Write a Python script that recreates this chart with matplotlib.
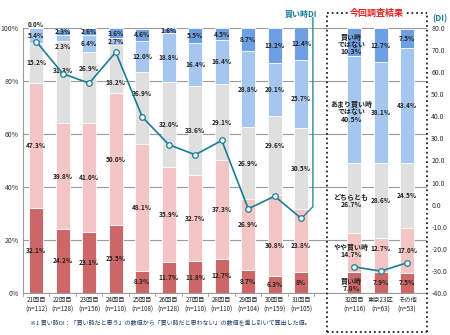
import matplotlib
matplotlib.use('Agg')
import matplotlib.pyplot as plt
from matplotlib.lines import Line2D

plt.rcParams['font.family'] = ['Noto Sans CJK JP', 'DejaVu Sans']

categories = ['21回目', '22回目', '23回目', '24回目', '25回目', '26回目', '27回目',
              '28回目', '29回目', '30回目', '31回目', '32回目', '東京23区', 'その他']
n_counts = [112, 128, 156, 110, 108, 128, 110, 110, 104, 159, 105, 116, 63, 53]

# 回答割合 (%)  下から順に積み上げ
kaidoki = [32.1, 24.2, 23.1, 25.5, 8.3, 11.7, 11.8, 12.7, 8.7, 6.3, 8.0, 7.8, 7.9, 7.5]
yaya = [47.3, 39.8, 41.0, 50.0, 48.1, 35.9, 32.7, 37.3, 26.9, 30.8, 23.8, 14.7, 12.7, 17.0]
dochira = [15.2, 31.3, 26.9, 18.2, 26.9, 32.0, 33.6, 29.1, 26.9, 29.6, 30.5, 26.7, 28.6, 24.5]
amari = [5.4, 2.3, 6.4, 2.7, 12.0, 18.8, 16.4, 16.4, 28.8, 20.1, 25.7, 40.5, 38.1, 43.4]
dewanai = [0.0, 2.3, 2.6, 3.6, 4.6, 1.6, 5.5, 4.5, 8.7, 13.2, 12.4, 10.3, 12.7, 7.5]

# 買い時DI
di = [74.0, 59.4, 55.1, 69.2, 39.8, 27.2, 22.6, 29.1, -1.9, 3.8, -6.3, -28.3, -30.2, -26.4]

series = [kaidoki, yaya, dochira, amari, dewanai]
colors = ['#cd6666', '#f3c5c5', '#dfdfdf', '#a5c6ee', '#6d9fe2']
teal = '#177e93'

xpos = list(range(11)) + [12, 13, 14]

fig = plt.figure(figsize=(4.5, 3.35), dpi=100)
ax = fig.add_axes([0.0511, 0.1263, 0.898, 0.7892])

bottoms = [0.0] * len(categories)
for vals, c in zip(series, colors):
    ax.bar(xpos, vals, bottom=bottoms, width=0.54, color=c,
           edgecolor='white', linewidth=0.6, zorder=2)
    bottoms = [b + v for b, v in zip(bottoms, vals)]

# ラベル位置の微調整 (系列番号, 棒番号): 上下のずれ(%)
shift = {(3, 1): -3.4, (2, 1): 4.4, (2, 2): 7.2, (2, 3): -5.0, (2, 4): 5.5,
         (2, 9): 3.8, (1, 8): 3.6, (1, 9): -3.9, (1, 10): -2.0, (3, 10): -1.6,
         (1, 12): 2.3, (1, 11): 1.5}
special = {(0, 10): '8%'}
named = {(4, 11): '買い時\nではない\n', (3, 11): 'あまり買い時\nではない\n',
         (2, 11): 'どちらとも\n', (1, 11): 'やや買い時\n', (0, 11): '買い時\n'}

base = [0.0] * len(categories)
for si, vals in enumerate(series):
    for i, v in enumerate(vals):
        y = base[i] + v / 2 + shift.get((si, i), 0)
        txt = special.get((si, i), '%.1f%%' % v)
        x = xpos[i]
        size = 4.7
        if (si, i) in named:
            txt = named[(si, i)] + txt
            x = xpos[i] - 0.1
            y -= 1.0
            size = 5.0
        if v == 0:
            y = 101.6
        ax.text(x, y, txt, ha='center', va='center', fontsize=size,
                fontweight='bold', color='#222222', linespacing=1.05, zorder=5)
    base = [b + v for b, v in zip(base, vals)]

ax.set_xlim(-0.5, 14.75)
ax.set_ylim(0, 100)
ax.set_yticks([0, 20, 40, 60, 80, 100])
ax.set_yticklabels(['%d%%' % t for t in [0, 20, 40, 60, 80, 100]])
ax.tick_params(axis='y', length=0, labelsize=5, pad=3, colors='#333333')
ax.yaxis.grid(True, color='#9a9a9a', linewidth=0.8, zorder=0)
ax.set_axisbelow(True)
ax.set_xticks(xpos)
ax.set_xticklabels(['%s\n(n=%d)' % (c, n) for c, n in zip(categories, n_counts)],
                   fontsize=4.5, linespacing=1.2, color='#222222')
ax.tick_params(axis='x', length=0, pad=2.5)
for s in ['top', 'right']:
    ax.spines[s].set_visible(False)
ax.spines['left'].set_color('#9a9a9a')
ax.spines['bottom'].set_color('#9a9a9a')
ax.spines['left'].set_linewidth(0.8)
ax.spines['bottom'].set_linewidth(0.8)
for b in range(12):
    ax.plot([b - 0.5, b - 0.5], [0, -1.2], color='#9a9a9a', lw=0.6, clip_on=False)

# DI 折れ線 (右軸)
ax2 = ax.twinx()
ax2.set_ylim(-40, 80)
ax2.set_yticks(range(-40, 81, 10))
ax2.set_yticklabels(['%.1f' % t for t in range(-40, 81, 10)])
ax2.tick_params(axis='y', length=0, labelsize=5, pad=3, colors='#333333')
for s in ax2.spines.values():
    s.set_visible(False)
mk = dict(marker='o', markersize=4, markerfacecolor='white', markeredgecolor=teal,
          markeredgewidth=0.9, color=teal, linewidth=1.2, zorder=6)
ax2.plot(xpos[:11], di[:11], **mk)
ax2.plot(xpos[11:], di[11:], **mk)
ax2.plot([xpos[10], 10.44, 10.44], [di[10], -1.0, 84.8], color=teal,
         linewidth=0.9, clip_on=False, zorder=5)
ax2.text(10.6, 86.5, '買い時DI', ha='right', va='center', fontsize=5.8,
         fontweight='bold', color=teal)
fig.text(0.977, 0.945, '(DI)', ha='center', va='center', fontsize=6,
         fontweight='bold', color=teal)

# 今回調査結果の点線枠
x0, x1, y0, y1 = 0.7267, 0.949, 0.009, 0.961
dots = dict(color='#222222', linewidth=1.3, linestyle=(0, (1, 1.6)))
fig.add_artist(Line2D([x0, x1], [y1, y1], **dots))
fig.add_artist(Line2D([x0, x1], [y0, y0], **dots))
fig.add_artist(Line2D([x0, x0], [y0, y1], **dots))
fig.add_artist(Line2D([x1, x1], [y0, y1], **dots))
fig.text(0.838, 0.961, '今回調査結果', ha='center', va='center', fontsize=6.5,
         fontweight='bold', color='#e02424',
         bbox=dict(facecolor='white', edgecolor='none', pad=1.2))

fig.text(0.067, 0.036,
         '※1 買い時DI：「買い時だと思う」の数値から「買い時だと思わない」の数値を差し引いて算出した値。',
         ha='left', va='center', fontsize=4.3, color='#1f3a5f')

fig.savefig('out.png', dpi=100)
